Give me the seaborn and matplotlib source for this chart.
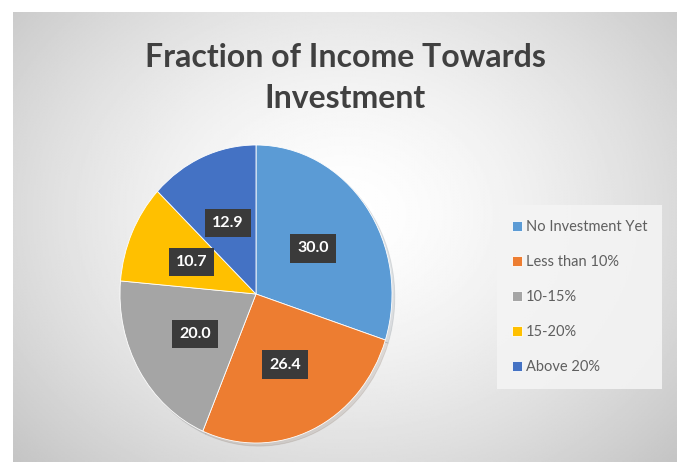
import numpy as np
import matplotlib
matplotlib.use("Agg")
import matplotlib.pyplot as plt
import seaborn as sns

categories = ["No Investment Yet", "Less than 10%", "10-15%", "15-20%", "Above 20%"]
shares = [30.0, 26.4, 20.0, 10.7, 12.9]
colors = ["#5B9BD5", "#ED7D31", "#A5A5A5", "#FFC000", "#4472C4"]
title = "Fraction of Income Towards\nInvestment"

sns.set_theme(style="white")
plt.rcParams["font.family"] = ["Lato", "DejaVu Sans"]
palette = sns.color_palette(colors)

W, H = 681, 466
fig = plt.figure(figsize=(W / 100, H / 100), dpi=100)
fig.patch.set_facecolor("white")

# radial gradient backdrop of the chart area
bg = fig.add_axes([13 / W, 1 - 462 / H, 664 / W, 450 / H])
yy, xx = np.mgrid[0:1:300j, 0:1:450j]
d = np.sqrt(((xx - 0.5) / 0.72) ** 2 + ((yy - 0.45) / 0.85) ** 2)
shade = np.clip(1.0 - 0.25 * d ** 1.5, 0, 1)
bg.imshow(shade, cmap="gray", vmin=0, vmax=1, aspect="auto", extent=[0, 1, 0, 1])
bg.set_axis_off()

fig.text(345 / W, 1 - 78 / H, title, ha="center", va="center", fontsize=23,
         fontweight="bold", color="#404040", linespacing=1.5)

# the pie is drawn slightly taller than wide
cx, cy, rx, ry = 256, 294, 136, 149
ax = fig.add_axes([(cx - rx) / W, 1 - (cy + ry) / H, 2 * rx / W, 2 * ry / H])
wedges, texts = ax.pie(shares, colors=palette, startangle=90, counterclock=False,
                       labels=[f"{v:.1f}" for v in shares], labeldistance=0.52,
                       wedgeprops=dict(linewidth=0.6, edgecolor="white"),
                       shadow=dict(ox=0.015, oy=-0.015, alpha=0.12))
for t in texts:
    t.set_ha("center")
    t.set_va("center")
    t.set_color("white")
    t.set_fontsize(11.5)
    t.set_fontweight("bold")
    t.set_bbox(dict(boxstyle="square,pad=0.45", facecolor="#3A3A3A", edgecolor="none"))
ax.set_xlim(-1.0, 1.0)
ax.set_ylim(-1.0, 1.0)
ax.set_aspect("auto")

leg = fig.legend(wedges, categories, loc="center left",
                 bbox_to_anchor=(497 / W, 1 - 297 / H), frameon=True,
                 fontsize=10.5, handlelength=0.7, handleheight=0.7, handletextpad=0.3,
                 labelspacing=1.45, borderpad=1.0, borderaxespad=0,
                 labelcolor="#5F5F5F")
leg.get_frame().set_facecolor("#F4F4F4")
leg.get_frame().set_edgecolor("none")
leg.get_frame().set_alpha(0.9)
leg.get_frame().set_boxstyle("square", pad=0)

fig.savefig("out.png", dpi=100, facecolor="white")
